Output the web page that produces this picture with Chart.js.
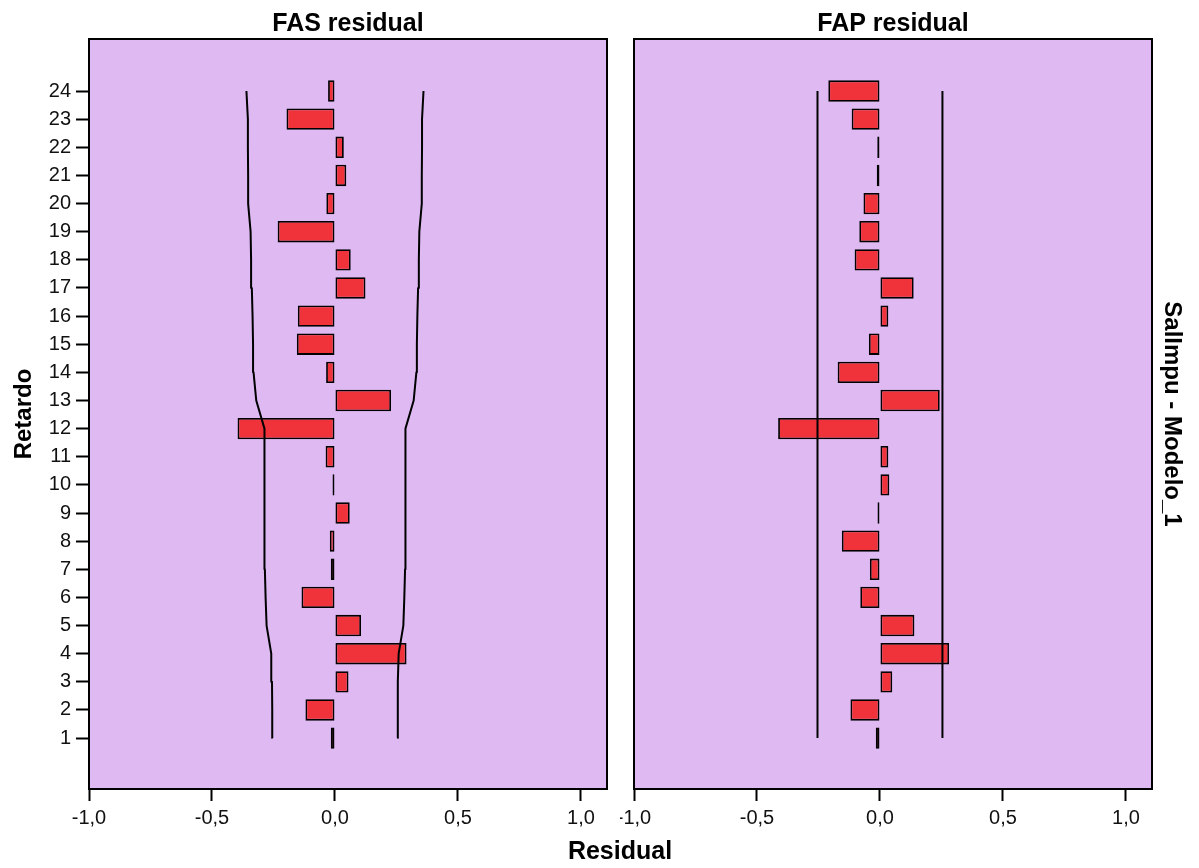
<!DOCTYPE html>
<html>
<head>
<meta charset="utf-8">
<script src="https://cdn.jsdelivr.net/npm/chart.js@4/dist/chart.umd.min.js"></script>
<style>
  body { margin: 0; background: #fff; width: 1199px; height: 868px; position: relative; overflow: hidden; }
  canvas { position: absolute; top: 0; }
  #fas { left: 0; }
  #fap { left: 620px; }
  #xtitle {
    position: absolute; left: 420px; width: 400px; top: 838px;
    text-align: center; font: bold 25px "Liberation Sans", Arial, sans-serif; line-height: 25px; color: #000;
  }
</style>
</head>
<body>
<canvas id="fas" width="620" height="868"></canvas>
<canvas id="fap" width="579" height="868"></canvas>
<div id="xtitle">Residual</div>
<script>
// Retardos (lags)
const lags = [1, 2, 3, 4, 5, 6, 7, 8, 9, 10, 11, 12, 13, 14, 15, 16, 17, 18, 19, 20, 21, 22, 23, 24];

// FAS residual (autocorrelaciones)
const fasValues = [-0.017, -0.120, 0.055, 0.291, 0.106, -0.136, -0.017, -0.021, 0.060, -0.010, -0.038, -0.396,
                   0.228, -0.036, -0.155, -0.151, 0.124, 0.064, -0.233, -0.035, 0.046, 0.036, -0.197, -0.028];
// Límites de confianza de la FAS
const fasUpper = [0.254, 0.255, 0.256, 0.259, 0.278, 0.282, 0.285, 0.286, 0.286, 0.287, 0.287, 0.287,
                  0.320, 0.331, 0.333, 0.335, 0.338, 0.341, 0.343, 0.353, 0.353, 0.354, 0.354, 0.360];
const fasLower = [-0.254, -0.255, -0.256, -0.259, -0.278, -0.282, -0.285, -0.286, -0.286, -0.287, -0.287, -0.287,
                  -0.320, -0.331, -0.333, -0.335, -0.338, -0.341, -0.343, -0.353, -0.353, -0.354, -0.354, -0.360];

// FAP residual (autocorrelaciones parciales)
const fapValues = [-0.017, -0.120, 0.050, 0.281, 0.140, -0.080, -0.041, -0.155, -0.010, 0.038, 0.034, -0.414,
                   0.243, -0.172, -0.045, 0.034, 0.137, -0.103, -0.084, -0.067, -0.013, -0.011, -0.115, -0.210];
const fapUpper = [0.254, 0.254, 0.254, 0.254, 0.254, 0.254, 0.254, 0.254, 0.254, 0.254, 0.254, 0.254,
                  0.254, 0.254, 0.254, 0.254, 0.254, 0.254, 0.254, 0.254, 0.254, 0.254, 0.254, 0.254];
const fapLower = [-0.254, -0.254, -0.254, -0.254, -0.254, -0.254, -0.254, -0.254, -0.254, -0.254, -0.254, -0.254,
                  -0.254, -0.254, -0.254, -0.254, -0.254, -0.254, -0.254, -0.254, -0.254, -0.254, -0.254, -0.254];

const residualTicks = [-1, -0.5, 0, 0.5, 1];

const FONT = '"Liberation Sans", Arial, sans-serif';
const PLOT_BG = 'rgb(222, 185, 242)';
const BAR_RED = 'rgb(240, 50, 58)';

// fondo lila, marco negro y título de cada panel
const panelPlugin = {
    id: 'panel',
    beforeDraw(chart) {
        const { ctx, chartArea: a } = chart;
        ctx.save();
        ctx.fillStyle = PLOT_BG;
        ctx.fillRect(a.left, a.top, a.right - a.left, a.bottom - a.top);
        ctx.restore();
    },
    afterDraw(chart, args, opts) {
        const { ctx, chartArea: a } = chart;
        ctx.save();
        ctx.strokeStyle = '#000';
        ctx.lineWidth = 2;
        ctx.strokeRect(a.left, a.top, a.right - a.left, a.bottom - a.top);
        ctx.fillStyle = '#000';
        ctx.font = 'bold 25px ' + FONT;
        ctx.textAlign = 'center';
        ctx.textBaseline = 'alphabetic';
        ctx.fillText(opts.text, (a.left + a.right) / 2, 31);
        ctx.restore();
    }
};

function boundLine(values) {
    return {
        type: 'line',
        data: lags.map((l, i) => ({ x: values[i], y: l })),
        borderColor: '#000',
        borderWidth: 2,
        borderJoinStyle: 'round',
        pointRadius: 0,
        tension: 0,
        fill: false,
        order: 1
    };
}

function makeChart(canvasId, opts) {
    return new Chart(document.getElementById(canvasId), {
        type: 'bar',
        data: {
            datasets: [
                {
                    type: 'bar',
                    data: lags.map((l, i) => ({ x: opts.values[i], y: l })),
                    backgroundColor: BAR_RED,
                    borderColor: '#000',
                    borderWidth: 1.8,
                    borderSkipped: false,
                    categoryPercentage: 1,
                    barPercentage: 0.76,
                    order: 2
                },
                boundLine(opts.upper),
                boundLine(opts.lower)
            ]
        },
        options: {
            responsive: false,
            animation: false,
            indexAxis: 'y',
            layout: { padding: opts.padding },
            plugins: {
                legend: { display: false },
                tooltip: { enabled: false },
                panel: { text: opts.title }
            },
            scales: {
                x: {
                    type: 'linear',
                    min: -1,
                    max: 1.106,
                    afterBuildTicks: s => { s.ticks = residualTicks.map(v => ({ value: v })); },
                    afterFit: s => { s.height = 79; s.paddingLeft = 0; s.paddingRight = 0; },
                    border: { display: false },
                    grid: { drawOnChartArea: false, drawTicks: true, tickLength: 12, tickWidth: 2, tickColor: '#000' },
                    ticks: {
                        padding: 5,
                        color: '#111',
                        font: { family: FONT, size: 20 },
                        callback: v => v.toFixed(1).replace('.', ',')
                    }
                },
                y: {
                    type: 'linear',
                    position: opts.yPosition,
                    offset: false,
                    min: -0.81,
                    max: 25.85,
                    afterBuildTicks: s => { s.ticks = lags.map(v => ({ value: v })); },
                    afterFit: s => { s.width = opts.yWidth; s.paddingTop = 0; s.paddingBottom = 0; },
                    border: { display: false },
                    grid: {
                        display: opts.yTicks,
                        offset: false,
                        drawOnChartArea: false, drawTicks: true, tickLength: 13, tickWidth: 2, tickColor: '#000'
                    },
                    ticks: {
                        display: opts.yTicks,
                        padding: 5,
                        color: '#111',
                        font: { family: FONT, size: 20 }
                    },
                    title: {
                        display: true,
                        text: opts.yTitle,
                        color: '#000',
                        font: { family: FONT, size: 24, weight: 'bold' },
                        padding: { top: opts.yTitlePad, bottom: 0 }
                    }
                }
            }
        },
        plugins: [panelPlugin]
    });
}

makeChart('fas', {
    title: 'FAS residual',
    values: fasValues, upper: fasUpper, lower: fasLower,
    padding: { top: 39, right: 13, bottom: 0, left: 0 },
    yPosition: 'left', yWidth: 89, yTicks: true,
    yTitle: 'Retardo', yTitlePad: 10
});

makeChart('fap', {
    title: 'FAP residual',
    values: fapValues, upper: fapUpper, lower: fapLower,
    padding: { top: 39, right: 0, bottom: 0, left: 14 },
    yPosition: 'right', yWidth: 47, yTicks: false,
    yTitle: 'SalImpu - Modelo_1', yTitlePad: 13
});
</script>
</body>
</html>
